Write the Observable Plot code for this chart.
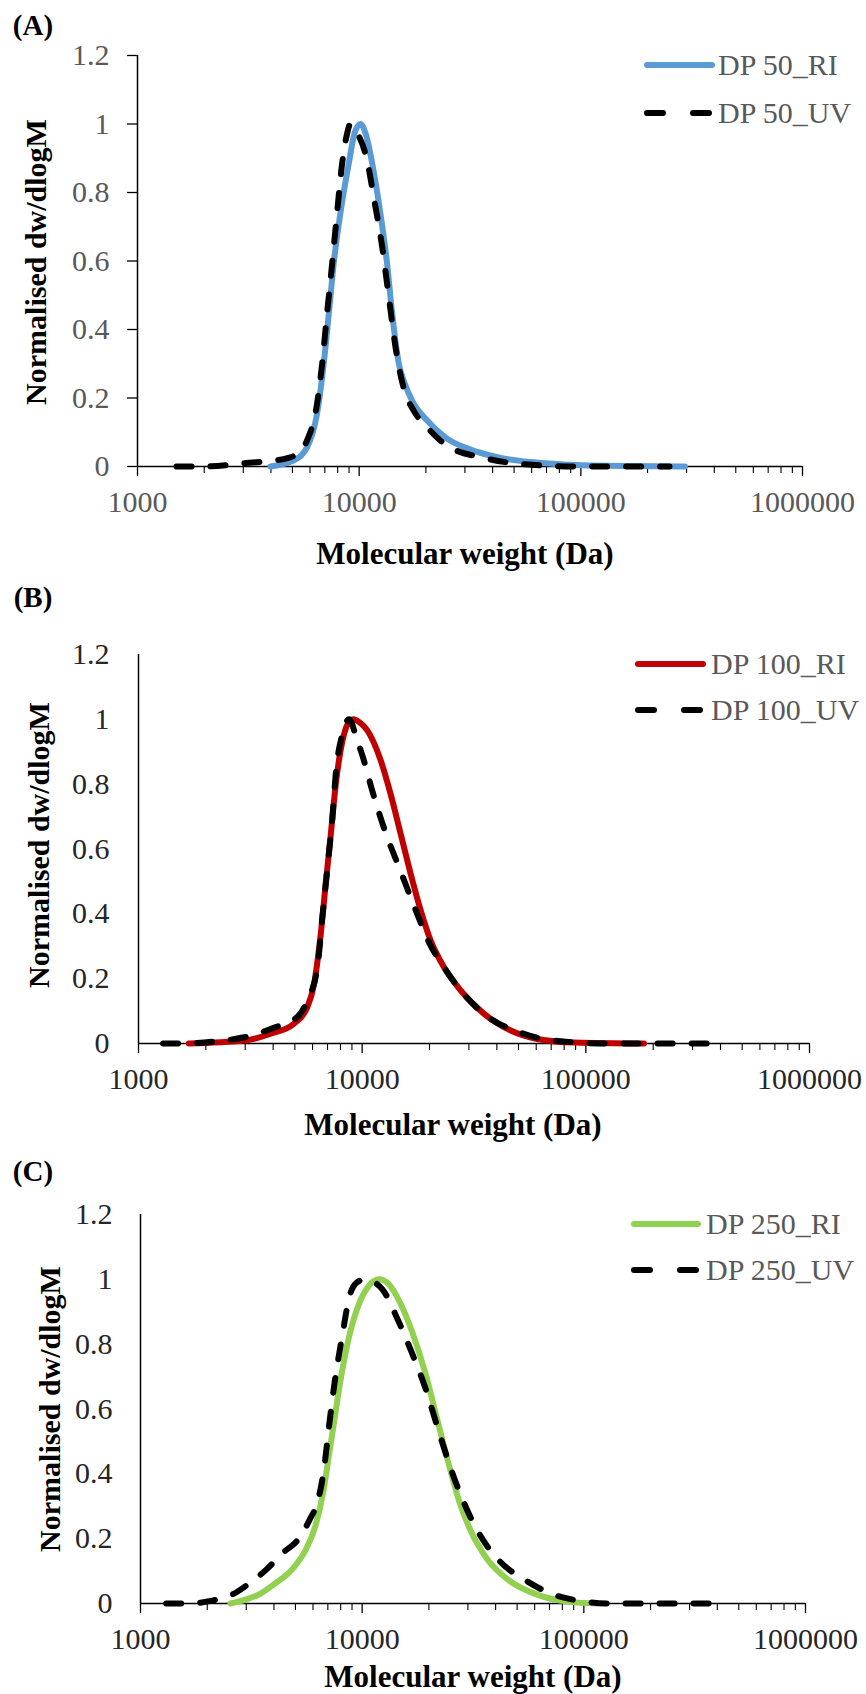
<!DOCTYPE html>
<html>
<head>
<meta charset="utf-8">
<script src="https://cdn.jsdelivr.net/npm/d3@7"></script>
<script src="https://cdn.jsdelivr.net/npm/@observablehq/plot@0.6"></script>
<style>
  body { margin: 0; background: #fff; }
  #root { position: relative; width: 866px; height: 1694px; overflow: hidden;
          font-family: 'Liberation Serif', 'Times New Roman', serif; }
  .abs { position: absolute; white-space: nowrap; line-height: 1; }
  .ctr { transform: translate(-50%, -50%); }
  .rot { transform: translate(-50%, -50%) rotate(-90deg); }
  .bold { font-weight: bold; color: #000; }
  .leg { color: #595959; font-size: 30px; transform: translateY(-50%); }
  .plotwrap { position: absolute; left: 0; }
  .plotwrap svg text { font-family: 'Liberation Serif', 'Times New Roman', serif; }
</style>
</head>
<body>
<div id="root"></div>
<script>
// ---------- tick values ----------
const xDomain = [1000, 1000000];
const xTicksMajor = [1000, 10000, 100000, 1000000];
const xTicksMinor = [2000, 3000, 4000, 5000, 6000, 7000, 8000, 9000,
                     20000, 30000, 40000, 50000, 60000, 70000, 80000, 90000,
                     200000, 300000, 400000, 500000, 600000, 700000, 800000, 900000];
const yDomain = [0, 1.2];
const yTicks = [0, 0.2, 0.4, 0.6, 0.8, 1, 1.2];

// ---------- labels ----------
const panelLetters = ["(A)", "(B)", "(C)"];
const riLabels = ["DP 50_RI", "DP 100_RI", "DP 250_RI"];
const uvLabels = ["DP 50_UV", "DP 100_UV", "DP 250_UV"];
const xTitle = "Molecular weight (Da)";
const yTitle = "Normalised dw/dlogM";

// ---------- series (molecular weight in Da, normalised dw/dlogM) ----------
// Panel A: DP 50
const a_ri_M = [3981, 5070, 5821, 6457, 6918, 7295, 7674, 8222, 8974, 9550, 10140, 10715, 11455, 12474, 13366, 14093, 15101, 16100, 17400, 20277, 25119, 31623, 42073, 74817, 125893, 295121];
const a_ri_y = [0, 0.018, 0.056, 0.154, 0.30, 0.446, 0.592, 0.738, 0.884, 0.975, 1.0, 0.97, 0.884, 0.738, 0.592, 0.446, 0.30, 0.24, 0.19, 0.134, 0.08, 0.05, 0.027, 0.008, 0.002, 0];
const a_uv_M = [1500, 2000, 3090, 3802, 4786, 5248, 5821, 6457, 6808, 7161, 7551, 7943, 8375, 8810, 9120, 9661, 10864, 11641, 12706, 13614, 14588, 15849, 17620, 20230, 23227, 25704, 35481, 52481, 100000, 251189];
const a_uv_y = [0, 0, 0.01, 0.015, 0.025, 0.037, 0.076, 0.183, 0.30, 0.446, 0.592, 0.738, 0.884, 0.97, 1.0, 0.98, 0.893, 0.786, 0.64, 0.494, 0.348, 0.231, 0.163, 0.115, 0.076, 0.056, 0.027, 0.008, 0, 0];

// Panel B: DP 100
const b_ri_M = [1679, 2965, 3899, 4955, 5689, 6095, 6531, 6871, 7244, 7621, 8166, 8610, 9120, 9772, 10544, 12106, 13397, 14859, 16482, 18281, 20230, 23227, 27542, 34995, 46132, 60674, 89125, 181970];
const b_ri_y = [0, 0.009, 0.03, 0.061, 0.112, 0.184, 0.339, 0.493, 0.647, 0.80, 0.934, 0.985, 1.0, 0.99, 0.966, 0.873, 0.77, 0.647, 0.523, 0.41, 0.318, 0.235, 0.164, 0.092, 0.04, 0.014, 0.003, 0];
const b_uv_M = [1288, 1479, 2254, 3404, 3890, 5129, 5689, 6310, 6637, 6998, 7362, 7621, 8166, 8730, 9506, 10186, 11092, 12735, 14791, 17378, 19953, 23227, 27542, 34995, 52845, 79433, 125893, 363078];
const b_uv_y = [0, 0, 0.007, 0.03, 0.045, 0.082, 0.133, 0.235, 0.39, 0.544, 0.698, 0.832, 0.956, 1.0, 0.935, 0.873, 0.78, 0.65, 0.535, 0.41, 0.31, 0.235, 0.164, 0.092, 0.03, 0.006, 0, 0];

// Panel C: DP 250
const c_ri_M = [2547, 2979, 3467, 3981, 4898, 5559, 6152, 6699, 7096, 7516, 7962, 8690, 9727, 10715, 11912, 13183, 14555, 16788, 19364, 21727, 24378, 27353, 30690, 36475, 45814, 61094, 86099, 114815];
const c_ri_y = [0, 0.012, 0.03, 0.058, 0.11, 0.165, 0.239, 0.35, 0.461, 0.572, 0.683, 0.817, 0.928, 0.98, 1.0, 0.985, 0.939, 0.839, 0.706, 0.572, 0.439, 0.317, 0.228, 0.139, 0.072, 0.028, 0.005, 0];
const c_uv_M = [1306, 1660, 2070, 2600, 3162, 3715, 4365, 5176, 5808, 6310, 6699, 7096, 7516, 8091, 8790, 9441, 10304, 12246, 14555, 16788, 19364, 21727, 25119, 28973, 34435, 42073, 54450, 72611, 96605, 125893, 371535];
const c_uv_y = [0, 0, 0.008, 0.028, 0.067, 0.106, 0.155, 0.2, 0.26, 0.317, 0.406, 0.55, 0.683, 0.817, 0.95, 0.99, 1.0, 0.972, 0.872, 0.772, 0.661, 0.55, 0.416, 0.306, 0.205, 0.128, 0.072, 0.028, 0.008, 0, 0];

const riColors = ["#5B9BD5", "#C00000", "#92D050"];
const uvColor = "#000000";

// ---------- layout (pixels) ----------
const layout = [
  { top: 0,    mt: 55, zero: 466,  ml: 137, mr: 64, ytick: 10, ypad: 18, tickColor: "#595959",
    letter: [33, 25], xt: [465, 553], yt: [36, 262], leg: { sx: 644, ex: 715, tx: 718, y1: 65, y2: 113 } },
  { top: 580,  mt: 74, zero: 1043, ml: 138, mr: 57, ytick: 0, ypad: 29, tickColor: "#262626",
    letter: [33, 597], xt: [453, 1124], yt: [39, 845], leg: { sx: 635, ex: 706, tx: 711, y1: 664, y2: 710 } },
  { top: 1140, mt: 74, zero: 1603, ml: 140, mr: 61, ytick: 0, ypad: 28, tickColor: "#262626",
    letter: [33, 1171], xt: [473, 1676], yt: [50, 1409], leg: { sx: 631, ex: 701, tx: 706, y1: 1224, y2: 1270 } }
];

const series = [
  [a_ri_M, a_ri_y, a_uv_M, a_uv_y],
  [b_ri_M, b_ri_y, b_uv_M, b_uv_y],
  [c_ri_M, c_ri_y, c_uv_M, c_uv_y]
];

const dash = "15,19";
const fontStack = "Liberation Serif, Times New Roman, serif";
const root = document.getElementById("root");

function toRows(M, y) { return M.map((m, i) => ({ M: m, v: y[i] })); }

function addText(txt, cls, x, y, extra) {
  const d = document.createElement("div");
  d.className = "abs " + cls;
  d.textContent = txt;
  d.style.left = x + "px";
  d.style.top = y + "px";
  if (extra) Object.assign(d.style, extra);
  root.appendChild(d);
  return d;
}

function swatch(sx, ex, y, color, dashed) {
  const ns = "http://www.w3.org/2000/svg";
  const s = document.createElementNS(ns, "svg");
  s.setAttribute("width", ex - sx + 8);
  s.setAttribute("height", 14);
  s.style.position = "absolute";
  s.style.left = (sx - 4) + "px";
  s.style.top = (y - 7) + "px";
  const l = document.createElementNS(ns, "line");
  l.setAttribute("x1", 4 + 3); l.setAttribute("x2", ex - sx + 4 - 3);
  l.setAttribute("y1", 7); l.setAttribute("y2", 7);
  l.setAttribute("stroke", color);
  l.setAttribute("stroke-width", 6);
  l.setAttribute("stroke-linecap", "round");
  if (dashed) l.setAttribute("stroke-dasharray", "16,30");
  s.appendChild(l);
  root.appendChild(s);
}

layout.forEach((L, i) => {
  const [riM, riY, uvM, uvY] = series[i];
  const height = L.zero - L.top + 50;
  const chart = Plot.plot({
    width: 866,
    height,
    marginTop: L.mt,
    marginBottom: height - (L.zero - L.top),
    marginLeft: L.ml,
    marginRight: L.mr,
    style: { fontFamily: fontStack, background: "transparent", overflow: "visible" },
    x: { type: "log", domain: xDomain },
    y: { domain: yDomain },
    marks: [
      Plot.axisX({ ticks: xTicksMajor, tickSize: 10, tickFormat: () => "", stroke: "#000", strokeWidth: 1.3, label: null }),
      Plot.axisX({ ticks: xTicksMinor, tickSize: 7, tickFormat: () => "", stroke: "#000", strokeWidth: 1.1, label: null }),
      Plot.axisX({ ticks: xTicksMajor, tickSize: 0, tickPadding: 24, tickFormat: d => String(d), fill: L.tickColor, fontSize: 30, label: null }),
      Plot.axisY({ ticks: yTicks, tickSize: L.ytick, tickFormat: () => "", stroke: "#000", strokeWidth: 1.3, label: null }),
      Plot.axisY({ ticks: yTicks, tickSize: 0, tickPadding: L.ytick + L.ypad, tickFormat: d => String(d), fill: L.tickColor, fontSize: 30, label: null }),
      Plot.ruleY([yDomain[0]], { x1: xDomain[0], x2: xDomain[1], stroke: "#000", strokeWidth: 1.5 }),
      Plot.ruleX([xDomain[0]], { y1: yDomain[0], y2: yDomain[1], stroke: "#000", strokeWidth: 1.5 }),
      Plot.line(toRows(riM, riY), { x: "M", y: "v", stroke: riColors[i], strokeWidth: 6, curve: "monotone-x" }),
      Plot.line(toRows(uvM, uvY), { x: "M", y: "v", stroke: uvColor, strokeWidth: 6, curve: "monotone-x", strokeDasharray: dash, strokeLinecap: "round" })
    ]
  });
  const wrap = document.createElement("div");
  wrap.className = "plotwrap";
  wrap.style.top = L.top + "px";
  wrap.appendChild(chart);
  root.appendChild(wrap);

  addText(panelLetters[i], "ctr bold", L.letter[0], L.letter[1], { fontSize: "29px" });
  addText(xTitle, "ctr bold", L.xt[0], L.xt[1], { fontSize: "31px" });
  addText(yTitle, "rot bold", L.yt[0], L.yt[1], { fontSize: "30px" });

  swatch(L.leg.sx, L.leg.ex, L.leg.y1, riColors[i], false);
  swatch(L.leg.sx, L.leg.ex, L.leg.y2, uvColor, true);
  addText(riLabels[i], "leg", L.leg.tx, L.leg.y1);
  addText(uvLabels[i], "leg", L.leg.tx, L.leg.y2);
});
</script>
</body>
</html>
